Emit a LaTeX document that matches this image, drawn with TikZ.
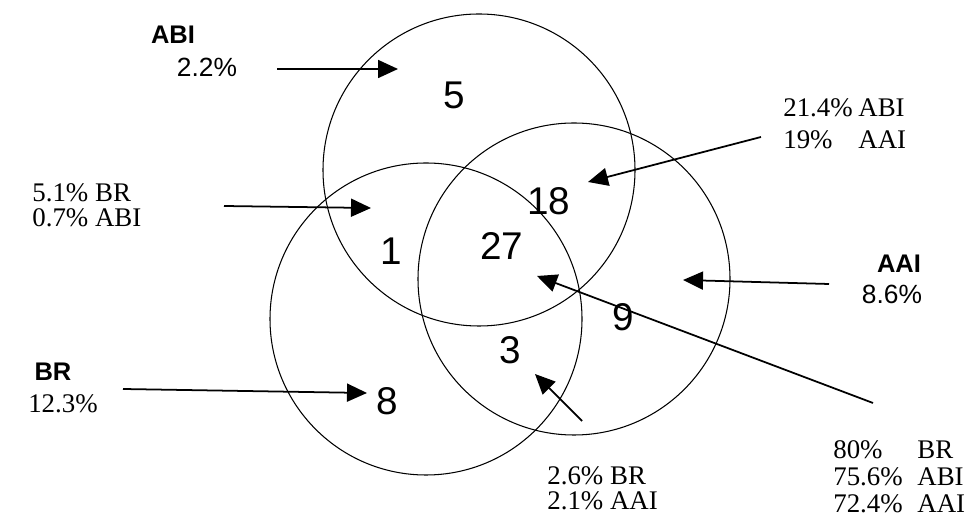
\documentclass[tikz,border=0pt]{standalone}
\usepackage{fontspec}
\setmainfont{Liberation Serif}
\setsansfont{Liberation Sans}
\usetikzlibrary{arrows.meta}

\begin{document}
\begin{tikzpicture}[
  venn/.style={draw=black, line width=0.6pt, circle, minimum size=6.24cm, inner sep=0pt},
  num/.style={font=\sffamily\fontsize{22}{24}\selectfont, inner sep=0pt},
  grp/.style={font=\sffamily\bfseries\fontsize{14.5}{16}\selectfont, inner sep=0pt},
  pctsf/.style={font=\sffamily\fontsize{15}{16}\selectfont, inner sep=0pt},
  pct/.style={font=\fontsize{15.3}{14.3}\selectfont, align=left, inner sep=0pt},
  ptr/.style={-{Triangle[length=4mm, width=3.6mm]}, line width=1pt}]
\useasboundingbox (0,0) rectangle (19.48,10.48);
% circles
\node[venn] (abi) at (9.58, 7.08) {};
\node[venn] (br)  at (8.52, 4.10) {};
\node[venn] (aai) at (11.48,4.90) {};
% region counts
\node[num] (n5)  at (9.08, 8.58) {5};
\node[num] (n18) at (10.98,6.46) {18};
\node[num] (n1)  at (7.82, 5.46) {1};
\node[num] (n27) at (10.04,5.56) {27};
\node[num] (n9)  at (12.46,4.14) {9};
\node[num] (n3)  at (10.20,3.48) {3};
\node[num] (n8)  at (7.74, 2.46) {8};
% group labels
\node[grp] (abiname) at (3.46, 9.78) {ABI};
\node[pctsf] (abipct) at (4.14, 9.14) {2.2\%};
\node[grp] (brname) at (1.06, 3.04) {BR};
\node[pct] (brpct) at (1.26, 2.40) {12.3\%};
\node[grp] (aainame) at (17.98,5.20) {AAI};
\node[pctsf] (aaipct) at (17.84,4.60) {8.6\%};
% overlap labels
\node[pct, anchor=west] (brabi) at (0.64, 6.37) {5.1\% BR\\ 0.7\% ABI};
\node[pct, anchor=west] (abiaai) at (15.66,8.00)
  {\makebox[1.5cm][l]{21.4\%}ABI\\[3.9pt] \makebox[1.5cm][l]{19\%}AAI};
\node[pct, anchor=west] (braai) at (10.94,0.71) {2.6\% BR\\ 2.1\% AAI};
\node[pct, anchor=west] (all) at (16.66,0.94)
  {\makebox[1.68cm][l]{80\%}BR\\[1.1pt] \makebox[1.68cm][l]{75.6\%}ABI\\[1.1pt]
   \makebox[1.68cm][l]{72.4\%}AAI};
% pointers
\coordinate (abiT) at (5.54,9.10);   \coordinate (abiH) at (7.96,9.10);
\coordinate (brabiT) at (4.48,6.36); \coordinate (brabiH) at (7.42,6.32);
\coordinate (brT) at (2.46,2.70);    \coordinate (brH) at (7.34,2.62);
\coordinate (abiaaiT) at (15.22,7.74); \coordinate (abiaaiH) at (11.76,6.84);
\coordinate (aaiT) at (16.58,4.80);  \coordinate (aaiH) at (13.66,4.88);
\coordinate (allT) at (17.46,2.42);  \coordinate (allH) at (10.74,4.96);
\coordinate (braaiT) at (11.64,2.06); \coordinate (braaiH) at (10.70,3.00);
\draw[ptr] (abiT) -- (abiH);
\draw[ptr] (brabiT) -- (brabiH);
\draw[ptr] (brT) -- (brH);
\draw[ptr] (abiaaiT) -- (abiaaiH);
\draw[ptr] (aaiT) -- (aaiH);
\draw[ptr] (allT) -- (allH);
\draw[ptr] (braaiT) -- (braaiH);
\end{tikzpicture}
\end{document}
